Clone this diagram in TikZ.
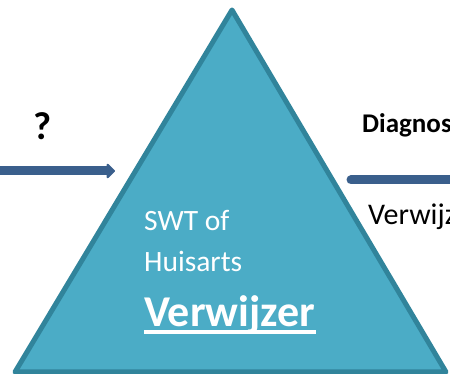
\documentclass[tikz,border=0pt]{standalone}
\usepackage{fontspec}
\setmainfont{Carlito}
\usepackage{xcolor}
\usepackage{tikz}
\usetikzlibrary{arrows.meta, positioning, calc}
\definecolor{tealfill}{HTML}{4BACC6}
\definecolor{tealedge}{HTML}{31849B}
\definecolor{arrowblue}{HTML}{3A5F8C}
\tikzstyle{pyramid} = [draw=tealedge, fill=tealfill, line width=5pt, line join=round]
\tikzstyle{arrow} = [draw=arrowblue, line width=9pt, -{Triangle[length=9pt, width=17pt, round]}]
\tikzstyle{bar} = [draw=arrowblue, line width=9pt, line cap=round]
\tikzstyle{whitetxt} = [text=white, inner sep=0pt, anchor=base west]
\tikzstyle{sidetxt} = [text=black, inner sep=0pt, anchor=base west]

\begin{document}
\begin{tikzpicture}[x=1pt,y=1pt]
              \useasboundingbox (0,0) rectangle (450,374);
              \clip (0,0) rectangle (450,374);

              % driehoek
              \coordinate (top) at (232,364);
              \coordinate (bl) at (15,2);
              \coordinate (br) at (446,2);
              \path[pyramid] (top) -- (br) -- (bl) -- cycle;

              % ingang links
              \coordinate (in-start) at (-5,203);
              \coordinate (in-end) at (115,203);
              \draw[arrow] (in-start) -- (in-end);
              \node[inner sep=0pt, anchor=base] (vraag) at (43,234) {\fontsize{39}{45}\selectfont\bfseries ?};

              % uitgang rechts
              \coordinate (out-start) at (351,194);
              \coordinate (out-end) at (470,194);
              \draw[bar] (out-start) -- (out-end);
              \node[sidetxt] (diag) at (362,241) {\fontsize{27}{32}\selectfont\bfseries Diagnose};
              \node[sidetxt] (verw-r) at (368,149) {\fontsize{30}{36}\selectfont Verwijzing};

              % tekst in driehoek
              \node[whitetxt] (swt) at (144,143) {\fontsize{29.5}{35}\selectfont SWT of};
              \node[whitetxt] (huis) at ([yshift=-41pt]swt.base west) {\fontsize{29.5}{35}\selectfont Huisarts};
              \node[whitetxt] (verw) at ([yshift=-55pt]huis.base west) {\fontsize{44}{52}\selectfont\bfseries Verwijzer};
              \draw[white, line width=4pt] ([yshift=-5pt]verw.base west) -- ([yshift=-5pt]verw.base east);

          \end{tikzpicture}
\end{document}
